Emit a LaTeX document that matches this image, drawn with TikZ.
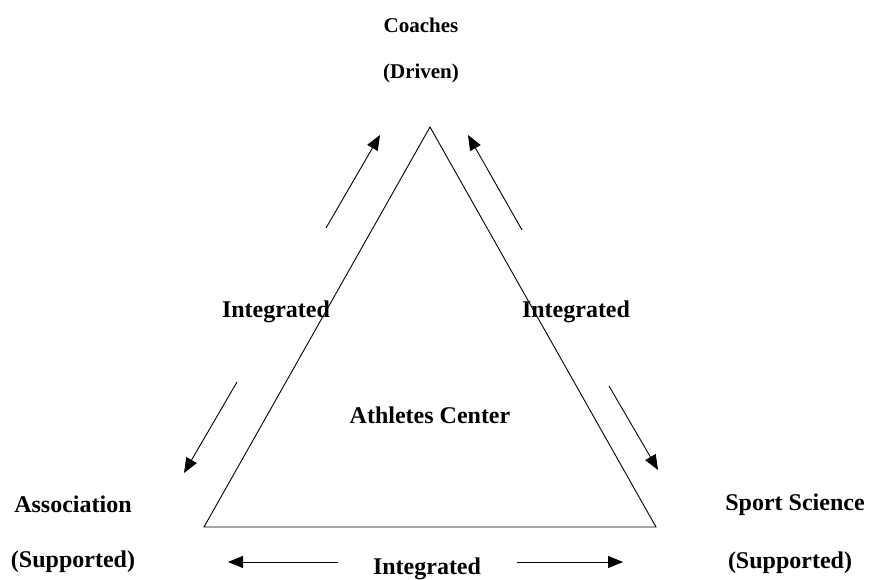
\documentclass[tikz,border=0pt]{standalone}
\usepackage{fontspec}
\setmainfont{Liberation Serif}
\usepackage{tikz}
\usetikzlibrary{positioning,arrows.meta,calc}

\begin{document}
\begin{tikzpicture}[
            x=1pt, y=1pt,
            % Style for the role names at the corners
            role/.style={
                font=\bfseries\fontsize{24}{28}\selectfont,
                align=center,
                inner sep=0pt
            },
            % Style for the top corner (a bit smaller)
            toprole/.style={
                font=\bfseries\fontsize{21}{25}\selectfont,
                inner sep=0pt
            },
            % Style for the arrows along the sides
            flow/.style={
                -{Triangle[length=15pt, width=12pt]},
                line width=0.9pt
            }
        ]
            \useasboundingbox (0,0) rectangle (875,580);

            % --- TRIANGLE ---
            \coordinate (apex) at (430,453);
            \coordinate (base_l) at (204,53);
            \coordinate (base_r) at (656,53);
            \draw[line width=0.9pt] (apex) -- (base_l) -- (base_r) -- cycle;

            % --- CORNER LABELS ---
            \node[toprole] (coach) at (421,555) {Coaches};
            \node[toprole] (driven) at (421,507) {(Driven)};

            \node[role] (assoc) at (73,76) {Association};
            \node[role] (assoc_sup) at (73,18) {(Supported)};

            \node[role] (sci) at (795,75) {Sport Science};
            \node[role] (sci_sup) at (790,17) {(Supported)};

            \node[role] (center) at (430,165) {Athletes Center};

            % --- SIDE LABELS ---
            \node[role] (int_l) at (276,268) {Integrated};
            \node[role] (int_r) at (576,268) {Integrated};
            \node[role] (int_b) at (427,11) {Integrated};

            % --- ARROWS ---
            \coordinate (ul_from) at (326,352);
            \coordinate (ul_to) at (380,445);
            \coordinate (ur_from) at (522,350);
            \coordinate (ur_to) at (468,445);
            \coordinate (dl_from) at (237,198);
            \coordinate (dl_to) at (184,107);
            \coordinate (dr_from) at (609,194);
            \coordinate (dr_to) at (658,110);
            \coordinate (bl_from) at (338,18);
            \coordinate (bl_to) at (228,18);
            \coordinate (br_from) at (517,18);
            \coordinate (br_to) at (623,18);

            \draw[flow] (ul_from) -- (ul_to);
            \draw[flow] (ur_from) -- (ur_to);
            \draw[flow] (dl_from) -- (dl_to);
            \draw[flow] (dr_from) -- (dr_to);
            \draw[flow] (bl_from) -- (bl_to);
            \draw[flow] (br_from) -- (br_to);

        \end{tikzpicture}
\end{document}
